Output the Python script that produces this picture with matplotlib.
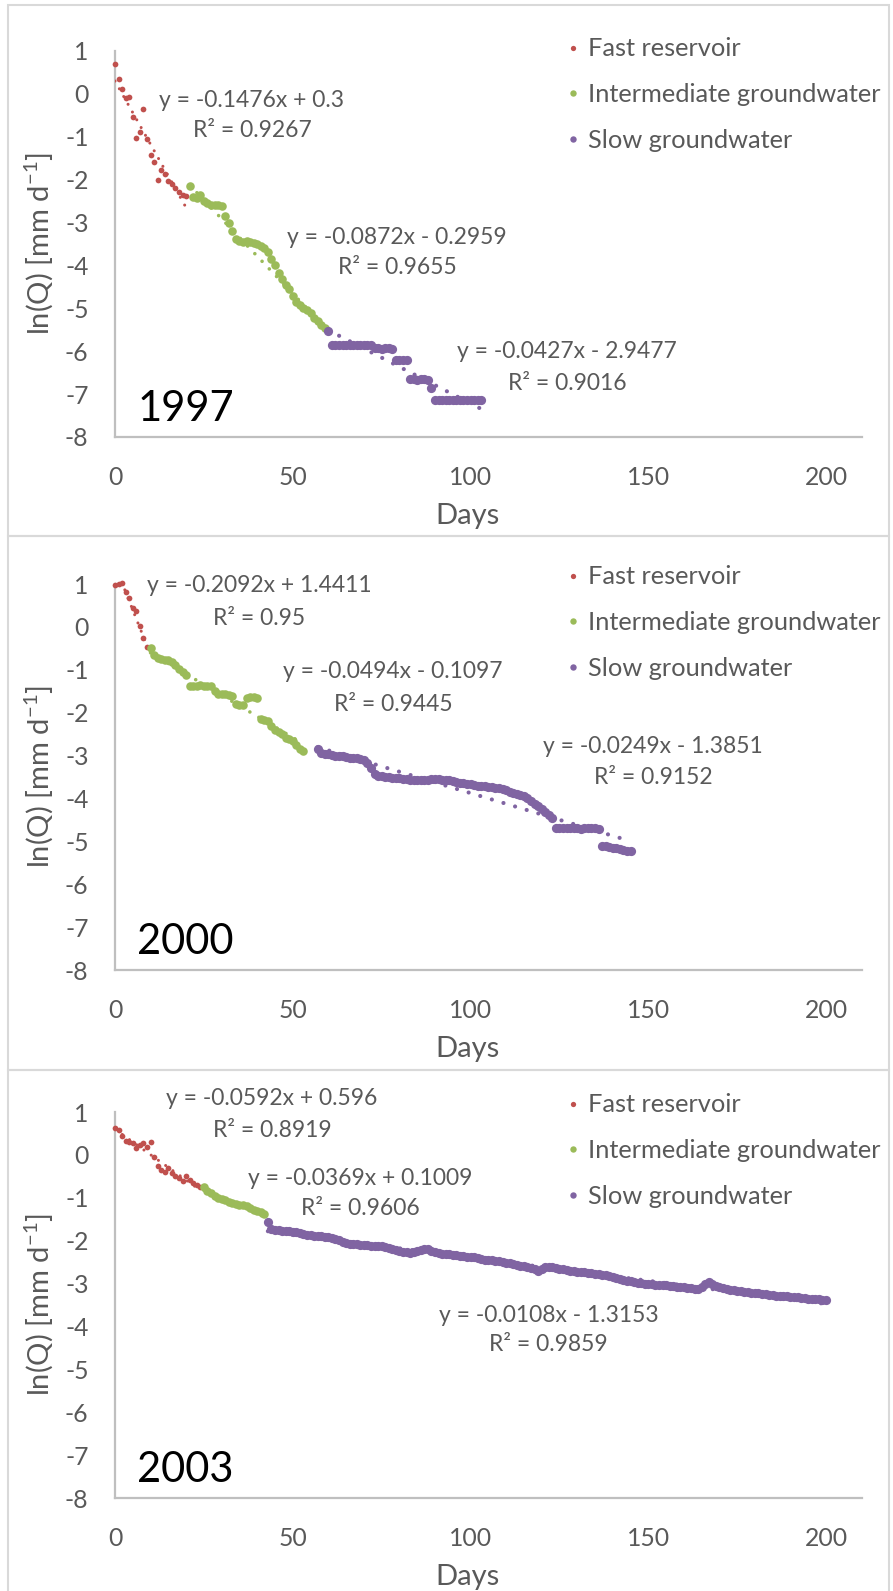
import numpy as np
import matplotlib
matplotlib.use("Agg")
import matplotlib.pyplot as plt
from matplotlib.lines import Line2D
from matplotlib.patches import Rectangle

plt.rcParams["font.family"] = ["Lato", "DejaVu Sans"]
plt.rcParams["axes.unicode_minus"] = False
plt.rcParams["mathtext.default"] = "regular"

RED = "#C0504D"
GREEN = "#9BBB59"
PURPLE = "#8064A2"
GREY_TXT = "#595959"
GREY_LINE = "#BFBFBF"
GREY_BOX = "#D9D9D9"

series_names = ["Fast reservoir", "Intermediate groundwater", "Slow groundwater"]
years = ["1997", "2000", "2003"]
x_ticks = [0, 50, 100, 150, 200]
y_ticks = [-8, -7, -6, -5, -4, -3, -2, -1, 0, 1]

# ---- 1997 ----
fast_97_start = 0
fast_97 = [0.69, 0.34, 0.11, -0.10, -0.08, -0.55, -1.03, -0.88, -0.35, -1.05,
           -1.42, -1.58, -2.00, -1.78, -1.87, -2.02, -2.10, -2.20, -2.28, -2.35,
           -2.39]
inter_97_start = 21
inter_97 = [-2.14, -2.40, -2.42, -2.36, -2.50, -2.55, -2.58, -2.58, -2.60, -2.62,
            -2.85, -3.00, -3.20, -3.38, -3.42, -3.45, -3.44, -3.46, -3.48, -3.50,
            -3.55, -3.60, -3.68, -3.85, -4.00, -4.18, -4.32, -4.45, -4.55, -4.72,
            -4.85, -4.92, -5.00, -5.05, -5.12, -5.22, -5.30, -5.38, -5.45]
slow_97_start = 60
slow_97 = [-5.52, -5.85, -5.86, -5.85, -5.85, -5.86, -5.85, -5.85, -5.86, -5.85,
           -5.85, -5.86, -5.86, -5.93, -5.93, -5.94, -5.93, -5.93, -5.94, -6.20,
           -6.20, -6.21, -6.20, -6.65, -6.65, -6.66, -6.65, -6.65, -6.66, -6.85,
           -7.13, -7.13, -7.14, -7.13, -7.13, -7.13, -7.14, -7.13, -7.13, -7.13,
           -7.14, -7.13, -7.13, -7.13]
trend_97 = [(-0.1476, 0.3), (-0.0872, -0.2959), (-0.0427, -2.9477)]
eq_97 = [("y = -0.1476x + 0.3", "R² = 0.9267"),
         ("y = -0.0872x - 0.2959", "R² = 0.9655"),
         ("y = -0.0427x - 2.9477", "R² = 0.9016")]

# ---- 2000 ----
fast_00_start = 0
fast_00 = [0.98, 1.00, 1.03, 0.82, 0.68, 0.43, 0.38, 0.02, -0.25, -0.46]
inter_00_start = 10
inter_00 = [-0.50, -0.65, -0.72, -0.75, -0.78, -0.78, -0.82, -0.90, -0.98, -1.05,
            -1.12, -1.37, -1.38, -1.37, -1.36, -1.37, -1.37, -1.38, -1.50, -1.56,
            -1.56, -1.57, -1.58, -1.62, -1.80, -1.83, -1.82, -1.66, -1.64, -1.64,
            -1.65, -2.15, -2.18, -2.20, -2.30, -2.40, -2.45, -2.50, -2.58, -2.62,
            -2.65, -2.75, -2.85, -2.90]
slow_00_start = 57
slow_00 = [-2.85, -2.95, -2.97, -2.97, -2.98, -3.00, -3.00, -3.02, -3.03, -3.05,
           -3.05, -3.05, -3.07, -3.10, -3.18, -3.30, -3.42, -3.47, -3.48, -3.50,
           -3.50, -3.52, -3.52, -3.53, -3.54, -3.55, -3.56, -3.57, -3.58, -3.57,
           -3.57, -3.56, -3.55, -3.55, -3.55, -3.56, -3.57, -3.58, -3.60, -3.61,
           -3.63, -3.65, -3.66, -3.67, -3.68, -3.70, -3.71, -3.72, -3.73, -3.74,
           -3.75, -3.76, -3.77, -3.80, -3.85, -3.88, -3.90, -3.92, -3.95, -4.00,
           -4.05, -4.12, -4.18, -4.25, -4.32, -4.38, -4.45, -4.68, -4.70, -4.70,
           -4.70, -4.69, -4.70, -4.70, -4.71, -4.70, -4.70, -4.70, -4.70, -4.72,
           -5.10, -5.12, -5.14, -5.15, -5.16, -5.18, -5.20, -5.22, -5.22]
trend_00 = [(-0.2092, 1.4411), (-0.0494, -0.1097), (-0.0249, -1.3851)]
eq_00 = [("y = -0.2092x + 1.4411", "R² = 0.95"),
         ("y = -0.0494x - 0.1097", "R² = 0.9445"),
         ("y = -0.0249x - 1.3851", "R² = 0.9152")]

# ---- 2003 ----
fast_03_start = 0
fast_03 = [0.62, 0.57, 0.45, 0.33, 0.30, 0.27, 0.15, 0.22, 0.27, 0.19,
           0.31, -0.04, -0.25, -0.35, -0.39, -0.31, -0.42, -0.50, -0.53, -0.61,
           -0.50, -0.58, -0.66, -0.70, -0.74]
inter_03_start = 25
inter_03 = [-0.76, -0.84, -0.90, -0.95, -1.00, -1.03, -1.06, -1.09, -1.12, -1.14,
            -1.16, -1.18, -1.20, -1.24, -1.28, -1.31, -1.34, -1.37]
slow_03_start = 43
slow_03 = [-1.56, -1.72, -1.74, -1.76, -1.77, -1.78, -1.78, -1.79, -1.80, -1.82,
           -1.84, -1.86, -1.87, -1.88, -1.88, -1.90, -1.91, -1.92, -1.93, -1.96,
           -1.99, -2.02, -2.05, -2.07, -2.08, -2.08, -2.09, -2.10, -2.11, -2.12,
           -2.12, -2.12, -2.13, -2.14, -2.16, -2.19, -2.22, -2.24, -2.26, -2.27,
           -2.28, -2.27, -2.24, -2.21, -2.19, -2.20, -2.23, -2.26, -2.28, -2.30,
           -2.31, -2.32, -2.33, -2.34, -2.35, -2.36, -2.37, -2.38, -2.39, -2.41,
           -2.42, -2.44, -2.45, -2.46, -2.47, -2.48, -2.50, -2.51, -2.53, -2.54,
           -2.56, -2.58, -2.60, -2.62, -2.63, -2.65, -2.71, -2.66, -2.62, -2.61,
           -2.61, -2.63, -2.65, -2.67, -2.69, -2.70, -2.71, -2.72, -2.73, -2.74,
           -2.75, -2.76, -2.77, -2.78, -2.79, -2.81, -2.83, -2.85, -2.87, -2.89,
           -2.91, -2.93, -2.95, -2.97, -2.98, -2.99, -3.00, -3.01, -3.02, -3.03,
           -3.03, -3.04, -3.04, -3.05, -3.06, -3.07, -3.08, -3.09, -3.10, -3.11,
           -3.12, -3.12, -3.08, -3.00, -2.97, -3.01, -3.05, -3.08, -3.10, -3.12,
           -3.14, -3.15, -3.17, -3.18, -3.19, -3.20, -3.21, -3.22, -3.23, -3.24,
           -3.25, -3.26, -3.27, -3.28, -3.28, -3.29, -3.30, -3.31, -3.31, -3.32,
           -3.33, -3.34, -3.35, -3.35, -3.36, -3.37, -3.38, -3.38]
trend_03 = [(-0.0592, 0.596), (-0.0369, 0.1009), (-0.0108, -1.3153)]
eq_03 = [("y = -0.0592x + 0.596", "R² = 0.8919"),
         ("y = -0.0369x + 0.1009", "R² = 0.9606"),
         ("y = -0.0108x - 1.3153", "R² = 0.9859")]

panels = [
    (years[0], [(fast_97_start, fast_97), (inter_97_start, inter_97), (slow_97_start, slow_97)], trend_97, eq_97),
    (years[1], [(fast_00_start, fast_00), (inter_00_start, inter_00), (slow_00_start, slow_00)], trend_00, eq_00),
    (years[2], [(fast_03_start, fast_03), (inter_03_start, inter_03), (slow_03_start, slow_03)], trend_03, eq_03),
]

# label positions (x centre, baseline line 1, baseline line 2) in data units
eq_pos = [
    [(38.5, -0.30, -1.01), (79.3, -3.50, -4.20), (127.1, -6.16, -6.90)],
    [(40.6, 0.82, 0.04), (78.2, -1.20, -1.95), (151.3, -2.94, -3.66)],
    [(44.2, 1.16, 0.42), (69.1, -0.70, -1.41), (121.9, -3.89, -4.58)],
]
legend_y = [1.035, 1.048, 1.048]

colors = [RED, GREEN, PURPLE]
sizes = [17, 38, 44]
trend_lw = [2.2, 2.6, 3.0]

W, H = 893, 1591
fig = plt.figure(figsize=(W / 100, H / 100), dpi=100)

# panel frames (pixel rows)
frames = [(5, 536), (536, 1070), (1070, 1620)]
for top, bottom in frames:
    fig.add_artist(Rectangle((8 / W, 1 - bottom / H), (889 - 8) / W, (bottom - top) / H,
                             transform=fig.transFigure, fill=False,
                             edgecolor=GREY_BOX, linewidth=1.5))

axes_tops = [51, 584, 1112]
ax_left, ax_width, ax_height = 115, 746.6, 386

for k, (year, segs, trends, eqs) in enumerate(panels):
    top = axes_tops[k]
    ax = fig.add_axes([ax_left / W, 1 - (top + ax_height) / H, ax_width / W, ax_height / H])
    ax.set_facecolor("none")

    for i, (start, vals) in enumerate(segs):
        days = np.arange(start, start + len(vals))
        ax.scatter(days, vals, s=sizes[i], color=colors[i], linewidths=0,
                   zorder=3, clip_on=False)
        m, b = trends[i]
        xs = np.array([days[0], days[-1]])
        ax.plot(xs, m * xs + b, color=colors[i], linewidth=trend_lw[i],
                linestyle=(0, (0.01, 2.9)), dash_capstyle="round", zorder=4)
        xc, y1, y2 = eq_pos[k][i]
        ax.text(xc, y1, eqs[i][0], ha="center", va="baseline", fontsize=16.5,
                color=GREY_TXT, zorder=5)
        ax.text(xc, y2, eqs[i][1], ha="center", va="baseline", fontsize=16.5,
                color=GREY_TXT, zorder=5)

    ax.text(6.2, -7.62, year, ha="left", va="baseline", fontsize=30, color="black")

    ax.set_xlim(0, 210)
    ax.set_ylim(-8, 1)
    ax.set_xticks(x_ticks)
    ax.set_yticks(y_ticks)
    for side in ["top", "right"]:
        ax.spines[side].set_visible(False)
    for side in ["left", "bottom"]:
        ax.spines[side].set_color(GREY_LINE)
        ax.spines[side].set_linewidth(1.6)
    ax.tick_params(axis="both", length=0, labelsize=17.8, labelcolor=GREY_TXT)
    ax.tick_params(axis="y", pad=19)
    ax.tick_params(axis="x", pad=21)

    ax.set_xlabel("Days", fontsize=21, color=GREY_TXT)
    ax.xaxis.set_label_coords(0.4715, -0.172)
    ax.set_ylabel(r"ln(Q) [mm d$^{-1}$]", fontsize=21, color=GREY_TXT, va="center")
    ax.yaxis.set_label_coords(-0.1025, 0.5)

    handles = [Line2D([], [], linestyle="none", marker="o", markersize=ms,
                      markerfacecolor=c, markeredgewidth=0)
               for c, ms in zip(colors, [3.8, 4.6, 4.6])]
    ax.legend(handles, series_names, loc="upper left",
              bbox_to_anchor=(0.6034, legend_y[k]), frameon=False,
              borderpad=0, borderaxespad=0, handlelength=0.6, handletextpad=0.3,
              labelspacing=0.9, fontsize=18.3, labelcolor=GREY_TXT)

fig.savefig("out.png", dpi=100)
